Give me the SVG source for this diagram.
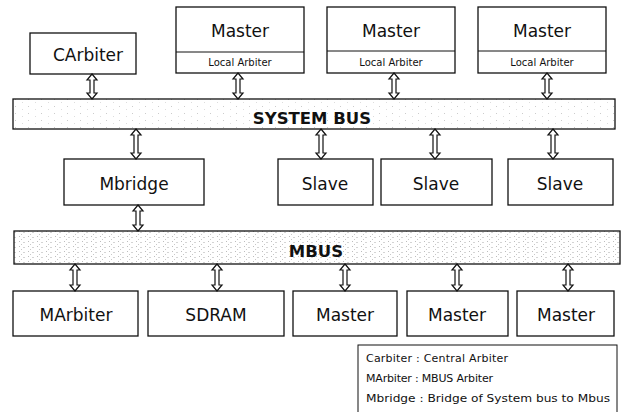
<svg xmlns="http://www.w3.org/2000/svg" width="622" height="412" viewBox="0 0 622 412">
  <defs>
    <!-- faint speckle texture for the bus bars -->
    <pattern id="speckle" width="13" height="7" patternUnits="userSpaceOnUse">
      <rect width="13" height="7" fill="#ffffff"/>
      <rect x="2" y="1" width="1" height="1" fill="#cccccc"/>
      <rect x="9" y="4" width="1" height="1" fill="#dddddd"/>
    </pattern>
    <pattern id="speckleDense" width="9" height="5" patternUnits="userSpaceOnUse">
      <rect width="9" height="5" fill="#ffffff"/>
      <rect x="1" y="1" width="1" height="1" fill="#bdbdbd"/>
      <rect x="5" y="2" width="2" height="1" fill="#d4d4d4"/>
      <rect x="3" y="4" width="1" height="1" fill="#c8c8c8"/>
    </pattern>
  </defs>
  <style>
    .box { fill: #ffffff; stroke: #111111; stroke-width: 1.3; }
    .bus { stroke: #111111; stroke-width: 1.3; }
    .lbl { font-family: "DejaVu Sans", "Liberation Sans", sans-serif; font-size: 17px; fill: #111111; text-anchor: middle; }
    .small { font-family: "DejaVu Sans", "Liberation Sans", sans-serif; font-size: 10px; fill: #111111; text-anchor: middle; }
    .busl { font-family: "DejaVu Sans", "Liberation Sans", sans-serif; font-size: 16.5px; font-weight: bold; fill: #111111; text-anchor: middle; }
    .leg { font-family: "DejaVu Sans", "Liberation Sans", sans-serif; font-size: 11px; fill: #111111; }
    .arr { fill: #ffffff; stroke: #111111; stroke-width: 1.2; stroke-linejoin: miter; }
  </style>

  <!-- buses -->
  <g id="system-bus">
    <rect class="bus" x="13" y="99" width="602" height="30" fill="url(#speckle)"/>
    <text class="busl" x="312" y="124">SYSTEM BUS</text>
  </g>
  <g id="mbus">
    <rect class="bus" x="14" y="231" width="606" height="33" fill="url(#speckleDense)"/>
    <text class="busl" x="316" y="257">MBUS</text>
  </g>

  <!-- top row -->
  <g id="carbiter">
    <rect class="box" x="30" y="33" width="106" height="41"/>
    <text class="lbl" x="88" y="61">CArbiter</text>
  </g>
  <g id="master-top-1">
    <rect class="box" x="176" y="7" width="128" height="66"/>
    <line x1="176" y1="52" x2="304" y2="52" stroke="#111" stroke-width="1"/>
    <text class="lbl" x="240" y="37">Master</text>
    <text class="small" x="240" y="66">Local Arbiter</text>
  </g>
  <g id="master-top-2">
    <rect class="box" x="327" y="7" width="128" height="66"/>
    <line x1="327" y1="51" x2="455" y2="51" stroke="#111" stroke-width="1"/>
    <text class="lbl" x="391" y="37">Master</text>
    <text class="small" x="391" y="66">Local Arbiter</text>
  </g>
  <g id="master-top-3">
    <rect class="box" x="478" y="7" width="128" height="66"/>
    <line x1="478" y1="51" x2="606" y2="51" stroke="#111" stroke-width="1"/>
    <text class="lbl" x="542" y="37">Master</text>
    <text class="small" x="542" y="66">Local Arbiter</text>
  </g>

  <!-- middle row -->
  <g id="mbridge">
    <rect class="box" x="64" y="159" width="140" height="46"/>
    <text class="lbl" x="134" y="190">Mbridge</text>
  </g>
  <g id="slave-1">
    <rect class="box" x="278" y="159" width="95" height="46"/>
    <text class="lbl" x="325" y="190">Slave</text>
  </g>
  <g id="slave-2">
    <rect class="box" x="381" y="159" width="111" height="46"/>
    <text class="lbl" x="436" y="190">Slave</text>
  </g>
  <g id="slave-3">
    <rect class="box" x="508" y="159" width="105" height="46"/>
    <text class="lbl" x="560" y="190">Slave</text>
  </g>

  <!-- bottom row -->
  <g id="marbiter">
    <rect class="box" x="13" y="291" width="125" height="45"/>
    <text class="lbl" x="76" y="321">MArbiter</text>
  </g>
  <g id="sdram">
    <rect class="box" x="148" y="291" width="136" height="45"/>
    <text class="lbl" x="216" y="321">SDRAM</text>
  </g>
  <g id="master-bottom-1">
    <rect class="box" x="293" y="291" width="104" height="45"/>
    <text class="lbl" x="345" y="321">Master</text>
  </g>
  <g id="master-bottom-2">
    <rect class="box" x="407" y="291" width="101" height="45"/>
    <text class="lbl" x="457" y="321">Master</text>
  </g>
  <g id="master-bottom-3">
    <rect class="box" x="517" y="291" width="97" height="45"/>
    <text class="lbl" x="566" y="321">Master</text>
  </g>

  <!-- legend -->
  <g id="legend">
    <rect x="358" y="345" width="259" height="80" fill="#ffffff" stroke="#111" stroke-width="1"/>
    <text class="leg" x="366" y="362" textLength="142" lengthAdjust="spacing">Carbiter : Central Arbiter</text>
    <text class="leg" x="366" y="382" textLength="127" lengthAdjust="spacing">MArbiter : MBUS Arbiter</text>
    <text class="leg" x="366" y="402" textLength="244" lengthAdjust="spacingAndGlyphs">Mbridge : Bridge of System bus to Mbus</text>
  </g>

  <!-- connectors: hollow double-headed arrows -->
  <g id="connectors">
    <path class="arr" d="M92,74 L97,80 L94,80 L94,93 L97,93 L92,99 L87,93 L90,93 L90,80 L87,80 Z"/>
    <path class="arr" d="M238,73 L243,79 L240,79 L240,93 L243,93 L238,99 L233,93 L236,93 L236,79 L233,79 Z"/>
    <path class="arr" d="M394,73 L399,79 L396,79 L396,93 L399,93 L394,99 L389,93 L392,93 L392,79 L389,79 Z"/>
    <path class="arr" d="M547,73 L552,79 L549,79 L549,93 L552,93 L547,99 L542,93 L545,93 L545,79 L542,79 Z"/>

    <path class="arr" d="M136,129 L141,135 L138,135 L138,153 L141,153 L136,159 L131,153 L134,153 L134,135 L131,135 Z"/>
    <path class="arr" d="M321,129 L326,135 L323,135 L323,153 L326,153 L321,159 L316,153 L319,153 L319,135 L316,135 Z"/>
    <path class="arr" d="M435,129 L440,135 L437,135 L437,153 L440,153 L435,159 L430,153 L433,153 L433,135 L430,135 Z"/>
    <path class="arr" d="M553,129 L558,135 L555,135 L555,153 L558,153 L553,159 L548,153 L551,153 L551,135 L548,135 Z"/>

    <path class="arr" d="M138,205 L143,211 L140,211 L140,225 L143,225 L138,231 L133,225 L136,225 L136,211 L133,211 Z"/>

    <path class="arr" d="M75,264 L80,270 L77,270 L77,285 L80,285 L75,291 L70,285 L73,285 L73,270 L70,270 Z"/>
    <path class="arr" d="M217,264 L222,270 L219,270 L219,285 L222,285 L217,291 L212,285 L215,285 L215,270 L212,270 Z"/>
    <path class="arr" d="M345,264 L350,270 L347,270 L347,285 L350,285 L345,291 L340,285 L343,285 L343,270 L340,270 Z"/>
    <path class="arr" d="M457,264 L462,270 L459,270 L459,285 L462,285 L457,291 L452,285 L455,285 L455,270 L452,270 Z"/>
    <path class="arr" d="M568,264 L573,270 L570,270 L570,285 L573,285 L568,291 L563,285 L566,285 L566,270 L563,270 Z"/>
  </g>
</svg>
